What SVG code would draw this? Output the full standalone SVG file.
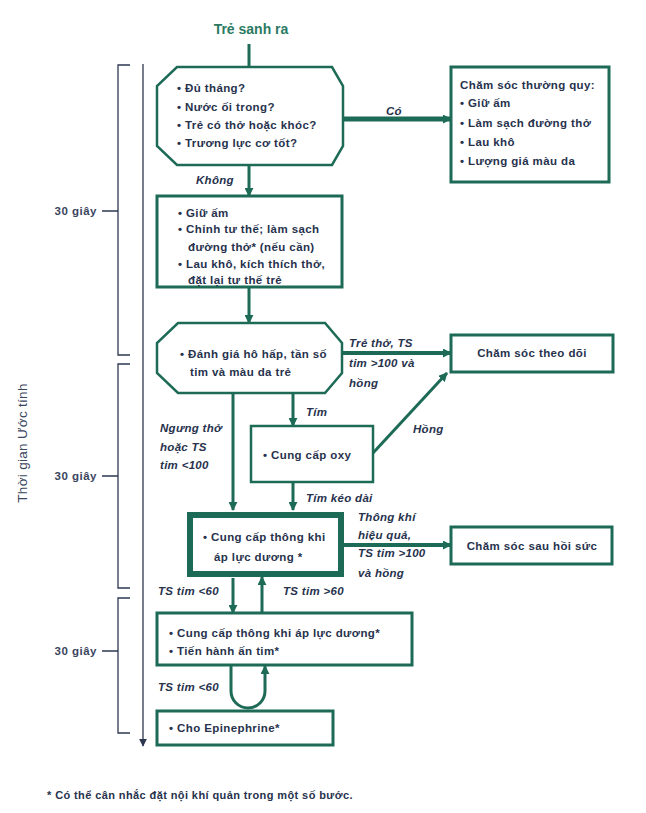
<svg xmlns="http://www.w3.org/2000/svg" width="646" height="813" viewBox="0 0 646 813">
<style>
.box{fill:#fff;stroke:#1d6b56;stroke-width:2.5}
.thick{fill:#fff;stroke:#1d6b56;stroke-width:6}
.c{fill:none;stroke:#1d6b56;stroke-width:3}
.t{font-family:"Liberation Sans",Arial,sans-serif;font-size:11.5px;letter-spacing:0.4px;font-weight:bold;fill:#27324d}
.l{font-family:"Liberation Sans",Arial,sans-serif;font-size:11.5px;letter-spacing:0.3px;font-weight:bold;font-style:italic;fill:#27324d}
.ax{fill:none;stroke:#2d3750;stroke-width:1.3}
.tm{font-family:"Liberation Sans",Arial,sans-serif;font-size:11.5px;letter-spacing:0.5px;font-weight:bold;fill:#3a4560}
</style>
<defs>
<marker id="ah" viewBox="0 0 10 10" refX="9" refY="5" markerWidth="9" markerHeight="9" markerUnits="userSpaceOnUse" orient="auto">
<path d="M0,0 L10,5 L0,10 z" fill="#1d6b56"/>
</marker>
<marker id="ahb" viewBox="0 0 10 10" refX="9" refY="5" markerWidth="8" markerHeight="8" markerUnits="userSpaceOnUse" orient="auto">
<path d="M0,0 L10,5 L0,10 z" fill="#2d3750"/>
</marker>
</defs>
<rect width="646" height="813" fill="#fff"/>

<g id="title"><text x="251" y="34" text-anchor="middle" style="font-family:'Liberation Sans',Arial,sans-serif;font-size:14px;font-weight:bold;fill:#2a7a62">Trẻ sanh ra</text></g>

<g id="timeline">
<line class="ax" x1="143" y1="64" x2="143" y2="746" marker-end="url(#ahb)"/>
<path class="ax" d="M130,65 H118 V355 H130"/>
<path class="ax" d="M130,364 H118 V588 H130"/>
<path class="ax" d="M130,598 H118 V733 H130"/>
<path class="ax" d="M102,211 H118 M102,476 H118 M102,651 H118"/>
<text class="tm" x="97" y="215" text-anchor="end">30 giây</text>
<text class="tm" x="97" y="480" text-anchor="end">30 giây</text>
<text class="tm" x="97" y="655" text-anchor="end">30 giây</text>
<text x="0" y="0" transform="translate(27,443) rotate(-90)" text-anchor="middle" style="font-family:'Liberation Sans',Arial,sans-serif;font-size:13.5px;letter-spacing:0.3px;fill:#3a4560">Thời gian Ước tính</text>
</g>

<g id="connectors">
<line class="c" x1="249" y1="44" x2="249" y2="67"/>
<line class="c" x1="343" y1="119" x2="451" y2="119" style="stroke-width:5" marker-end="url(#ah)"/>
<line class="c" x1="249" y1="165" x2="249" y2="196" marker-end="url(#ah)"/>
<line class="c" x1="249" y1="287" x2="249" y2="323" marker-end="url(#ah)"/>
<line class="c" x1="342" y1="353" x2="451" y2="353" style="stroke-width:4" marker-end="url(#ah)"/>
<line class="c" x1="293" y1="393" x2="293" y2="426" marker-end="url(#ah)"/>
<line class="c" x1="233" y1="393" x2="233" y2="510" marker-end="url(#ah)"/>
<line class="c" x1="373" y1="453" x2="447" y2="373" marker-end="url(#ah)"/>
<line class="c" x1="293" y1="482" x2="293" y2="510" marker-end="url(#ah)"/>
<line class="c" x1="343" y1="545" x2="451" y2="545" style="stroke-width:4" marker-end="url(#ah)"/>
<line class="c" x1="233" y1="578" x2="233" y2="613" marker-end="url(#ah)"/>
<line class="c" x1="262" y1="613" x2="262" y2="577" marker-end="url(#ah)"/>
<path class="c" d="M231,666 V691 A17,17 0 0 0 265,691 V666" marker-end="url(#ah)"/>
<text class="l" x="386" y="115">Có</text>
<text class="l" x="196" y="184">Không</text>
<text class="l" x="349" y="347">Trẻ thở, TS</text>
<text class="l" x="349" y="367">tim &gt;100 và</text>
<text class="l" x="349" y="387">hồng</text>
<text class="l" x="306" y="416">Tím</text>
<text class="l" x="160" y="432">Ngưng thở</text>
<text class="l" x="160" y="451">hoặc TS</text>
<text class="l" x="160" y="469">tim &lt;100</text>
<text class="l" x="413" y="433">Hồng</text>
<text class="l" x="306" y="502">Tím kéo dài</text>
<text class="l" x="358" y="521">Thông khí</text>
<text class="l" x="358" y="539">hiệu quả,</text>
<text class="l" x="358" y="557">TS tim  &gt;100</text>
<text class="l" x="358" y="577">và hồng</text>
<text class="l" x="158" y="595">TS tim &lt;60</text>
<text class="l" x="283" y="595">TS tim &gt;60</text>
<text class="l" x="158" y="691">TS tim &lt;60</text>
</g>

<g id="n1">
<polygon class="box" points="177,67 332,67 343,86 343,146 332,165 177,165 157,146 157,86"/>
<text class="t" x="177" y="92">• Đủ tháng?</text>
<text class="t" x="177" y="111">• Nước ối trong?</text>
<text class="t" x="177" y="129">• Trẻ có thở hoặc khóc?</text>
<text class="t" x="177" y="147">• Trương lực cơ tốt?</text>
</g>

<g id="n2">
<rect class="box" x="451" y="67" width="158" height="115" style="stroke-width:3"/>
<text class="t" x="460" y="89">Chăm sóc thường quy:</text>
<text class="t" x="460" y="107">• Giữ ấm</text>
<text class="t" x="460" y="127">• Làm sạch đường thở</text>
<text class="t" x="460" y="146">• Lau khô</text>
<text class="t" x="460" y="165">• Lượng giá màu da</text>
</g>

<g id="n3">
<rect class="box" x="157" y="196" width="185" height="91" style="stroke-width:3"/>
<text class="t" x="178" y="217">• Giữ ấm</text>
<text class="t" x="178" y="233">• Chỉnh tư thế; làm sạch</text>
<text class="t" x="188" y="251">đường thở* (nếu cần)</text>
<text class="t" x="178" y="268">• Lau khô, kích thích thở,</text>
<text class="t" x="188" y="284">đặt lại tư thế trẻ</text>
</g>

<g id="n4">
<polygon class="box" points="178,323 325,323 342,343 342,373 325,393 178,393 157,373 157,343"/>
<text class="t" x="180" y="358">• Đánh giá hô hấp, tần số</text>
<text class="t" x="190" y="376">tim và màu da trẻ</text>
</g>

<g id="n5">
<rect class="box" x="451" y="335" width="162" height="37" style="stroke-width:3"/>
<text class="t" x="532" y="357" text-anchor="middle">Chăm sóc theo dõi</text>
</g>

<g id="n6">
<rect class="box" x="251" y="426" width="122" height="56"/>
<text class="t" x="263" y="459">• Cung cấp oxy</text>
</g>

<g id="n7">
<rect class="thick" x="190" y="515" width="151" height="59"/>
<text class="t" x="203" y="541">• Cung cấp thông khi</text>
<text class="t" x="214" y="561">áp lực dương *</text>
</g>

<g id="n8">
<rect class="box" x="451" y="527" width="161" height="37" style="stroke-width:3"/>
<text class="t" x="532" y="550" text-anchor="middle">Chăm sóc sau hồi sức</text>
</g>

<g id="n9">
<rect class="box" x="157" y="613" width="255" height="52" style="stroke-width:3"/>
<text class="t" x="169" y="637">• Cung cấp thông khi áp lực dương*</text>
<text class="t" x="169" y="655">• Tiến hành ấn tim*</text>
</g>

<g id="n10">
<rect class="box" x="157" y="711" width="176" height="34" style="stroke-width:3"/>
<text class="t" x="169" y="732">• Cho Epinephrine*</text>
</g>

<g id="footnote"><text class="t" x="47" y="799" style="font-size:11px">* Có thể cân nhắc đặt nội khí quản trong một số bước.</text></g>
</svg>
